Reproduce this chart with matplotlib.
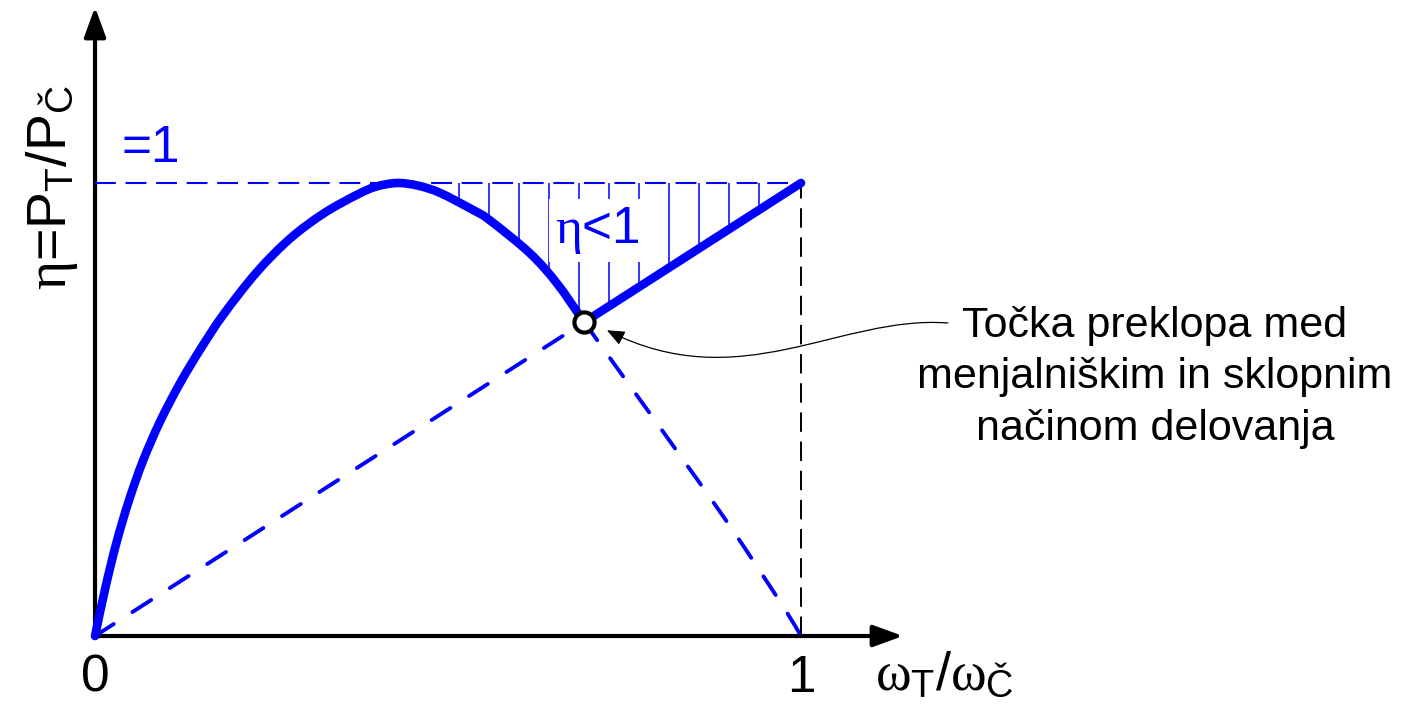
import numpy as np
import matplotlib.pyplot as plt
from matplotlib.path import Path
from matplotlib.patches import FancyArrowPatch, PathPatch

# sans text, serif greek letters in mathtext (upright, via the "it" slot)
plt.rcParams['font.family'] = ['Liberation Sans', 'DejaVu Sans']
plt.rcParams['mathtext.fontset'] = 'custom'
plt.rcParams['mathtext.rm'] = 'Liberation Sans'
plt.rcParams['mathtext.it'] = 'Liberation Serif'
plt.rcParams['lines.scale_dashes'] = False

BLUE = '#0000ff'

# speed ratio wT/wC and efficiency in gear (menjalnik) mode
ratio = [0.0, 0.014, 0.030, 0.048, 0.068, 0.092, 0.120, 0.150, 0.182, 0.229,
         0.276, 0.324, 0.371, 0.398, 0.428, 0.458, 0.489, 0.536, 0.559, 0.616,
         0.654, 0.693, 0.715, 0.755, 0.795, 0.833, 0.871, 0.907, 0.942, 0.980, 1.0]
eta_gear = [0.0, 0.102, 0.204, 0.299, 0.387, 0.473, 0.557, 0.635, 0.710, 0.803,
            0.877, 0.933, 0.974, 0.992, 1.0, 0.994, 0.978, 0.940, 0.918, 0.845,
            0.779, 0.693, 0.645, 0.558, 0.472, 0.389, 0.306, 0.225, 0.143, 0.052, 0.0]

# clutch (sklopka) mode: efficiency equals the speed ratio
ratio_clutch = [0.0, 0.693, 1.0]
eta_clutch = [0.0, 0.693, 1.0]
i_sw = ratio.index(ratio_clutch[1])   # switching point between the two modes

note_lines = ['Točka preklopa med', 'menjalniškim in sklopnim', 'načinom delovanja']


def smooth_path(xs, ys):
    # Catmull-Rom through the points, written as cubic Bezier segments
    p = np.column_stack([xs, ys])
    ext = np.vstack([2 * p[0] - p[1], p, 2 * p[-1] - p[-2]])
    verts = [p[0]]
    codes = [Path.MOVETO]
    for i in range(1, len(p)):
        p0, p1, p2, p3 = ext[i - 1], ext[i], ext[i + 1], ext[i + 2]
        verts += [p1 + (p2 - p0) / 6, p2 - (p3 - p1) / 6, p2]
        codes += [Path.CURVE4] * 3
    return Path(verts, codes)


fig = plt.figure(figsize=(14.05, 7.05), dpi=100)
ax = fig.add_axes([0, 0, 1, 1])
ax.set_xlim(-0.1346, 1.8555)
ax.set_ylim(-0.1523, 1.404)
ax.axis('off')

# axes with arrow heads
for tip in [(1.1445, 0.0), (0.0, 1.3885)]:
    ax.annotate('', xy=tip, xytext=(0, 0),
                arrowprops=dict(arrowstyle='-|>,head_length=0.55,head_width=0.2',
                                mutation_scale=33, lw=3, color='black',
                                shrinkA=0, shrinkB=0), zorder=1)

# hatched area where eta < 1
env_x = ratio[:i_sw + 1] + ratio_clutch[2:]
env_y = eta_gear[:i_sw + 1] + eta_clutch[2:]
hx = np.arange(0.515, 0.97, 0.0425)
ax.vlines(hx, np.interp(hx, env_x, env_y), 1.0, color=BLUE, lw=1.1, zorder=2)

# reference lines
ax.plot([0, 1], [1, 1], color=BLUE, lw=1.5, dashes=(15, 7), zorder=2)
ax.plot([1, 1], [0, 1], color='black', lw=1.4, dashes=(14, 7), zorder=2)

# continuation of each mode beyond the switching point (dashed)
ax.add_patch(PathPatch(smooth_path(ratio[i_sw:], eta_gear[i_sw:]), fill=False,
                       edgecolor=BLUE, lw=2.8, linestyle=(0, (16, 16)),
                       capstyle='round', zorder=3))
ax.plot(ratio_clutch[:2], eta_clutch[:2], color=BLUE, lw=2.8, dashes=(16, 16),
        dash_capstyle='round', zorder=3)

# resulting characteristic (solid)
ax.add_patch(PathPatch(smooth_path(ratio[:i_sw + 1], eta_gear[:i_sw + 1]), fill=False,
                       edgecolor=BLUE, lw=6.2, capstyle='round', joinstyle='round',
                       zorder=4))
ax.plot(ratio_clutch[1:], eta_clutch[1:], color=BLUE, lw=6.2,
        solid_capstyle='round', zorder=4)
ax.plot([ratio_clutch[1]], [eta_clutch[1]], 'o', ms=14.5, mfc='white', mec='black',
        mew=3, zorder=6)

# labels
big = 37
ax.text(0, -0.1236, '0', fontsize=big, ha='center', va='baseline')
ax.text(1, -0.1236, '1', fontsize=big, ha='center', va='baseline')
ax.text(0.0368, 1.0464, '=1', color=BLUE, fontsize=big, ha='left', va='baseline')
ax.text(0.711, 0.8675, r'$\eta$<1', color=BLUE, fontsize=big, ha='center',
        va='baseline', zorder=5,
        bbox=dict(facecolor='white', edgecolor='none', pad=4))

ax.text(1.105, -0.119, r'$\omega_\mathrm{T}/\omega_\mathrm{Č}$', fontsize=39,
        ha='left', va='baseline')
ax.text(-0.041, 0.764, r'$\eta$=P$_\mathrm{T}$/P$_\mathrm{Č}$', fontsize=40,
        rotation=90, rotation_mode='anchor', ha='left', va='baseline')

for k, line in enumerate(note_lines):
    ax.text(1.5014, 0.660 - 0.1135 * k, line, fontsize=31, ha='center', va='baseline')

# curved pointer from the note to the switching point
verts = [(1.208, 0.691), (1.055, 0.709), (0.914, 0.525), (0.725, 0.675)]
codes = [Path.MOVETO, Path.CURVE4, Path.CURVE4, Path.CURVE4]
ax.add_patch(FancyArrowPatch(path=Path(verts, codes),
                             arrowstyle='-|>,head_length=0.6,head_width=0.25',
                             mutation_scale=18, lw=0.9, color='black', zorder=5))

fig.savefig('out.png', dpi=100)
